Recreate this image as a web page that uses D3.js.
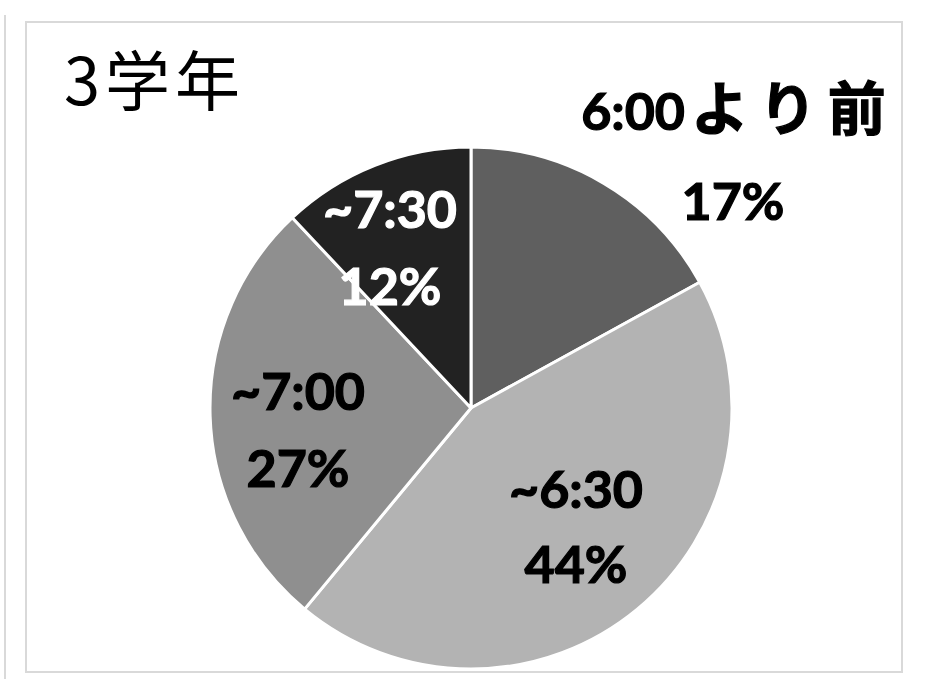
<!DOCTYPE html>
<html>
<head>
<meta charset="utf-8">
<script src="https://cdn.jsdelivr.net/npm/d3@7"></script>
<style>
  html, body { margin: 0; padding: 0; background: #fff; }
  svg { display: block; }
</style>
</head>
<body>
<svg id="chart" width="947" height="679"></svg>
<script>
// Wake-up time shares, 3rd graders
const title = "3学年";
const categories = ["6:00より前", "~6:30", "~7:00", "~7:30"];
const percents = [17, 44, 27, 12];
const sliceColors = ["#5f5f5f", "#b3b3b3", "#8f8f8f", "#222222"];
const textColors = ["#000000", "#000000", "#000000", "#ffffff"];

// Label anchors (first-line baseline) relative to the pie centre, layout only
const labelOffsets = [[262, -278], [105, 100], [-173, 2], [-81, -180]];
const lineGaps = [90, 75, 77, 77];

const W = 947, H = 679;
const cx = 471, cy = 408, R = 261;

const svg = d3.select("#chart");

// outer frame lines
svg.append("line")
  .attr("x1", 5).attr("x2", 5).attr("y1", 15).attr("y2", H)
  .attr("stroke", "#d9d9d9").attr("stroke-width", 2);
svg.append("rect")
  .attr("x", 26).attr("y", 22).attr("width", 876).attr("height", 650)
  .attr("fill", "#fff").attr("stroke", "#d9d9d9").attr("stroke-width", 2);

// title
svg.append("text")
  .attr("x", 64).attr("y", 105)
  .attr("font-family", "'Noto Sans CJK JP', 'Noto Sans', sans-serif")
  .attr("font-size", 65)
  .attr("letter-spacing", 5)
  .attr("fill", "#000")
  .text(title);

const pie = d3.pie().sort(null).value(d => d)
  .startAngle(0).endAngle(2 * Math.PI);
const arcs = pie(percents);
const arc = d3.arc().innerRadius(0).outerRadius(R);

const g = svg.append("g").attr("transform", `translate(${cx},${cy})`);

g.selectAll("path.slice")
  .data(arcs)
  .join("path")
  .attr("class", "slice")
  .attr("d", arc)
  .attr("fill", (d, i) => sliceColors[i])
  .attr("stroke", "#fff")
  .attr("stroke-width", 3)
  .attr("stroke-linejoin", "round");

const labels = g.selectAll("text.lbl")
  .data(arcs)
  .join("text")
  .attr("class", "lbl")
  .attr("text-anchor", "middle")
  .attr("font-family", "Lato, 'Noto Sans CJK JP', sans-serif")
  .attr("font-weight", "bold")
  .attr("font-size", 52)
  .attr("fill", (d, i) => textColors[i])
  .attr("stroke", (d, i) => textColors[i])
  .attr("stroke-width", 1.2)
  .attr("transform", (d, i) => `translate(${labelOffsets[i][0]},${labelOffsets[i][1]})`);

// split category names into Latin and CJK runs so the kana/kanji get their own sizing
const isCJK = r => /[^\x00-\x7f]/.test(r);
const runs = s => s.match(/[\x00-\x7f]+|[^\x00-\x7f]+/g);

const first = labels.append("tspan")
  .attr("x", (d, i) => isCJK(categories[i]) ? 6 : 0)
  .attr("y", 0);
first.selectAll("tspan")
  .data((d, i) => runs(categories[i]))
  .join("tspan")
  .attr("font-family", r => isCJK(r) ? "'Noto Sans CJK JP', sans-serif" : null)
  .attr("font-size", r => isCJK(r) ? 58 : null)
  .attr("letter-spacing", r => isCJK(r) ? 11 : null)
  .attr("dx", r => isCJK(r) ? 6 : null)
  .text(r => r);

labels.append("tspan")
  .attr("x", 0).attr("y", (d, i) => lineGaps[i])
  .text(d => `${d.data}%`);
</script>
</body>
</html>
